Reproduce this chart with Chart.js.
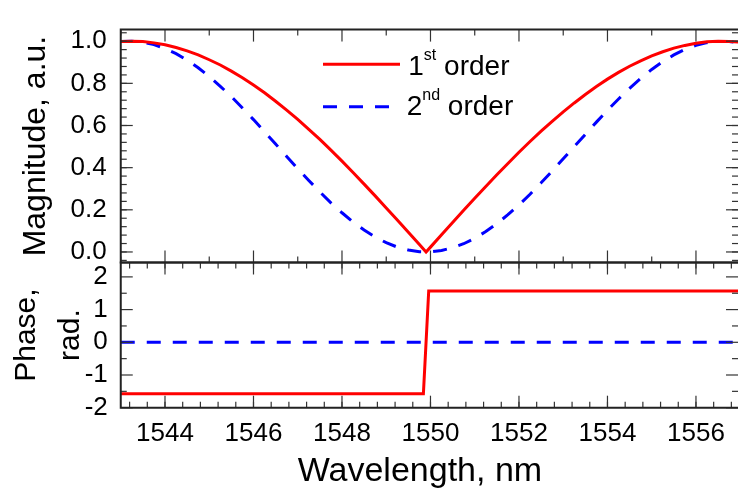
<!DOCTYPE html>
<html><head><meta charset="utf-8">
<script src="https://cdn.jsdelivr.net/npm/chart.js@4.4.1/dist/chart.umd.min.js"></script>
<style>
html,body{margin:0;padding:0;background:#fff;}
#wrap{position:relative;width:738px;height:495px;overflow:hidden;background:#fff;}
canvas{position:absolute;left:0;top:0;}
</style></head><body>
<div id="wrap"><canvas id="mag" width="738" height="495"></canvas><canvas id="phase" width="738" height="495"></canvas></div>
<script>
// ---- data ----
const wavelength = [1543,1543.25,1543.5,1543.75,1544,1544.25,1544.5,1544.75,1545,1545.25,1545.5,1545.75,1546,1546.25,1546.5,1546.75,1547,1547.25,1547.5,1547.75,1548,1548.25,1548.5,1548.75,1549,1549.25,1549.5,1549.75,1549.9,1550,1550.25,1550.5,1550.75,1551,1551.25,1551.5,1551.75,1552,1552.25,1552.5,1552.75,1553,1553.25,1553.5,1553.75,1554,1554.25,1554.5,1554.75,1555,1555.25,1555.5,1555.75,1556,1556.25,1556.5,1556.75,1557];
const magnitude1st = [0.999,1.000,0.998,0.992,0.983,0.970,0.954,0.935,0.912,0.887,0.858,0.827,0.792,0.755,0.715,0.673,0.629,0.582,0.534,0.483,0.431,0.377,0.322,0.266,0.209,0.152,0.094,0.035,0.000,0.023,0.082,0.140,0.198,0.255,0.311,0.366,0.420,0.473,0.524,0.573,0.620,0.665,0.707,0.747,0.785,0.820,0.852,0.881,0.907,0.930,0.950,0.967,0.980,0.990,0.997,1.000,0.999,0.996];
const magnitude2nd = [0.998,1.000,0.995,0.984,0.965,0.941,0.910,0.874,0.832,0.786,0.737,0.683,0.628,0.570,0.512,0.453,0.395,0.339,0.285,0.233,0.186,0.142,0.104,0.071,0.044,0.023,0.009,0.001,0.000,0.001,0.007,0.020,0.039,0.065,0.097,0.134,0.177,0.223,0.274,0.328,0.384,0.442,0.500,0.558,0.616,0.672,0.726,0.776,0.823,0.866,0.903,0.935,0.961,0.980,0.993,0.999,0.999,0.991];
const phaseWavelength1st = [1543,1549.84,1549.96,1557];
const phase1st = [-1.571,-1.571,1.571,1.571];
const phaseWavelength2nd = [1543,1557];
const phase2nd = [0,0];
const seriesLabels = ['1st order','2nd order'];
const xTickLabels = [1544,1546,1548,1550,1552,1554,1556];
const magTickLabels = [0.0,0.2,0.4,0.6,0.8,1.0];
const phaseTickLabels = [-2,-1,0,1,2];

// ---- styling / layout ----
const FONT = "'Liberation Sans', Arial, Helvetica, sans-serif";
const RED = '#ff0000', BLUE = '#0000ff';
const PLOT_LEFT = 120.75, TOP_Y = 9.5, SPLIT_Y = 262.5, BOTTOM_Y = 407.7, H = 495;
const X_MIN = 1543, X_MAX = 1556.95;
Chart.defaults.font.family = FONT;
Chart.defaults.color = '#000';

function rangeStep(a, b, step){ const out=[]; const n=Math.round((b-a)/step); for(let i=0;i<=n;i++) out.push(+(a+i*step).toFixed(4)); return out; }

function framePlugin(spec){
  return {
    id:'frame',
    afterDraw(chart){
      const {ctx, chartArea:ca, scales} = chart;
      const xs = scales.x, ys = scales.y;
      ctx.save();
      ctx.strokeStyle = '#333'; ctx.lineWidth = 1.2;
      const tick = (x1,y1,x2,y2)=>{ctx.beginPath();ctx.moveTo(x1,y1);ctx.lineTo(x2,y2);ctx.stroke();};
      const yt = (vals,len)=>vals.forEach(v=>{ if(v<ys.min||v>ys.max) return; const p=ys.getPixelForValue(v); tick(ca.left,p,ca.left+len,p); tick(ca.right,p,ca.right-len,p);});
      const xt = (vals,len)=>vals.forEach(v=>{ if(v<xs.min||v>xs.max) return; const p=xs.getPixelForValue(v); tick(p,ca.top,p,ca.top+len); tick(p,ca.bottom,p,ca.bottom-len);});
      yt(spec.yMinor,6); yt(spec.yMajor,12);
      xt(spec.xMinor,6); xt(spec.xMajor,12);
      ctx.strokeStyle = '#222'; ctx.lineWidth = 2;
      ctx.beginPath();
      ctx.moveTo(ca.right+1, ca.top); ctx.lineTo(ca.left, ca.top); ctx.lineTo(ca.left, ca.bottom); ctx.lineTo(ca.right+1, ca.bottom);
      ctx.stroke();
      ctx.restore();
    }
  };
}

const legendPlugin = {
  id:'supLegend',
  afterDraw(chart){
    const ctx = chart.ctx;
    const rows = [{y:64.3, base:75}, {y:106.7, base:115}];
    ctx.save();
    chart.data.datasets.forEach((ds,i)=>{
      const r = rows[i];
      ctx.strokeStyle = ds.borderColor; ctx.lineWidth = 3;
      ctx.setLineDash(ds.borderDash || []);
      ctx.beginPath(); ctx.moveTo(323, r.y); ctx.lineTo(ds.borderDash ? 390 : 400, r.y); ctx.stroke();
      ctx.setLineDash([]);
      const m = /^(\d+)(st|nd|rd|th)(.*)$/.exec(ds.label);
      ctx.fillStyle = '#000'; ctx.textAlign = 'left'; ctx.textBaseline = 'alphabetic';
      let x = ds.borderDash ? 406.7 : 408.3;
      ctx.font = '28px ' + FONT; ctx.fillText(m[1], x, r.base); x += ctx.measureText(m[1]).width;
      ctx.font = '16px ' + FONT; ctx.fillText(m[2], x, r.base - 15); x += ctx.measureText(m[2]).width;
      ctx.font = '28px ' + FONT; ctx.fillText(m[3], x, r.base);
    });
    ctx.restore();
  }
};

const magYMinor = rangeStep(-0.04, 1.04, 0.04);
const oddNm = rangeStep(1543, 1557, 2);
const phaseYMinor = rangeStep(-1.5, 1.5, 1);
const phaseXMinor = rangeStep(1543.2, 1556.8, 0.4);

new Chart(document.getElementById('mag'), {
  type:'line',
  data:{ datasets:[
    {label:seriesLabels[0], data:wavelength.map((x,i)=>({x, y:magnitude1st[i]})), borderColor:RED, borderWidth:3, pointRadius:0, tension:0, fill:false},
    {label:seriesLabels[1], data:wavelength.map((x,i)=>({x, y:magnitude2nd[i]})), borderColor:BLUE, borderWidth:3, borderDash:[14,12], pointRadius:0, tension:0, fill:false}
  ]},
  options:{
    responsive:false, animation:false, devicePixelRatio:1,
    layout:{padding:{left:0,right:0,top:TOP_Y,bottom:H-SPLIT_Y}},
    plugins:{legend:{display:false}, tooltip:{enabled:false}},
    scales:{
      x:{type:'linear', display:false, min:X_MIN, max:X_MAX},
      y:{type:'linear', min:-0.05, max:1.055,
         afterFit(s){s.width = PLOT_LEFT;},
         afterBuildTicks(s){s.ticks = magTickLabels.map(v=>({value:v}));},
         ticks:{font:{size:26}, color:'#000', padding:14, autoSkip:false, callback:v=>Number(v).toFixed(1)},
         grid:{display:false, drawTicks:false}, border:{display:false},
         title:{display:true, text:'Magnitude, a.u.', color:'#000', font:{size:32, lineHeight:1.2}, padding:{top:16.5,bottom:0}}
      }
    }
  },
  plugins:[framePlugin({yMajor:magTickLabels, yMinor:magYMinor, xMajor:xTickLabels, xMinor:oddNm}), legendPlugin]
});

new Chart(document.getElementById('phase'), {
  type:'line',
  data:{ datasets:[
    {label:seriesLabels[0], data:phaseWavelength1st.map((x,i)=>({x, y:phase1st[i]})), borderColor:RED, borderWidth:3, pointRadius:0, tension:0, fill:false},
    {label:seriesLabels[1], data:phaseWavelength2nd.map((x,i)=>({x, y:phase2nd[i]})), borderColor:BLUE, borderWidth:3, borderDash:[14,12], pointRadius:0, tension:0, fill:false}
  ]},
  options:{
    responsive:false, animation:false, devicePixelRatio:1,
    layout:{padding:{left:0,right:0,top:SPLIT_Y,bottom:0}},
    plugins:{legend:{display:false}, tooltip:{enabled:false}},
    scales:{
      x:{type:'linear', min:X_MIN, max:X_MAX,
         afterFit(s){s.height = H-BOTTOM_Y;},
         afterBuildTicks(s){s.ticks = xTickLabels.map(v=>({value:v}));},
         ticks:{font:{size:26}, color:'#000', padding:11, autoSkip:false, maxRotation:0, callback:v=>String(v)},
         grid:{display:false, drawTicks:false}, border:{display:false},
         title:{display:true, text:'Wavelength, nm  ', color:'#000', font:{size:34, lineHeight:1.2}, padding:{top:0,bottom:3}}
      },
      y:{type:'linear', min:-2, max:2.44,
         afterFit(s){s.width = PLOT_LEFT;},
         afterBuildTicks(s){s.ticks = phaseTickLabels.map(v=>({value:v}));},
         ticks:{font:{size:26}, color:'#000', padding:13, autoSkip:false, callback:v=>String(v)},
         grid:{display:false, drawTicks:false}, border:{display:false},
         title:{display:true, text:['Phase,','rad.'], color:'#000', font:{size:30, lineHeight:1.45}, padding:{top:5,bottom:0}}
      }
    }
  },
  plugins:[framePlugin({yMajor:phaseTickLabels, yMinor:phaseYMinor, xMajor:xTickLabels, xMinor:phaseXMinor})]
});
</script>
</body></html>
